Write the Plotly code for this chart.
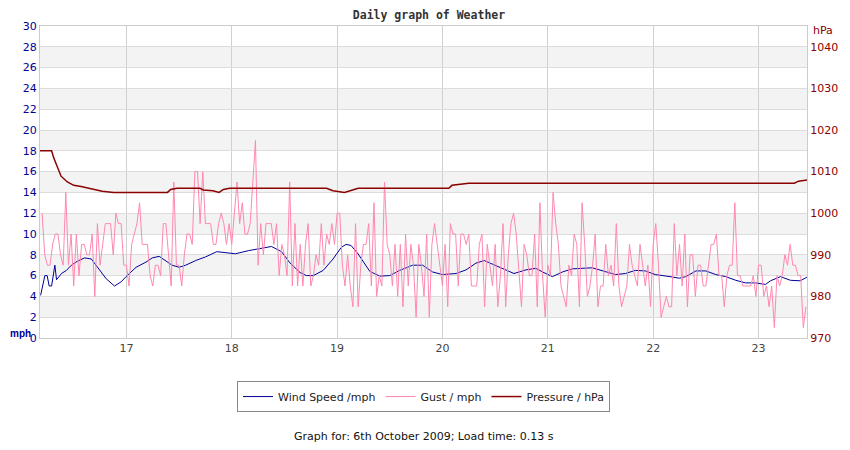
import plotly.graph_objects as go

# Gust / mph, one sample every 1.5 minutes starting 16:12 (0.025 h steps)
GUST_START = 16.20
GUST_STEP = 0.025
gust_16 = [12, 8, 7, 7, 9, 10, 10, 8, 7, 14, 7, 10, 5, 10, 6, 9, 9, 8, 8, 10,
           4, 11, 7, 9, 11, 11, 11, 8, 12, 11, 11, 7, 7]
gust_17 = [5, 9, 10, 11, 13, 9, 9, 9, 6, 5, 7, 7, 6, 11, 11, 8, 5, 15, 7, 7,
           5, 8, 10, 10, 9, 16, 16, 11, 16, 11, 11, 11, 9, 9, 11, 12, 11, 9, 11, 9]
gust_18 = [12, 15, 11, 13, 10, 10, 11, 15, 19, 7, 11, 8, 11, 11, 11, 9, 11, 6, 9, 8,
           6, 15, 5, 11, 5, 9, 5, 9, 11, 5, 6, 8, 7, 11, 7, 10, 9, 11, 9, 12]
gust_19 = [12, 7, 5, 8, 5, 3, 11, 3, 7, 9, 9, 11, 5, 13, 4, 6, 5, 15, 9, 8,
           5, 9, 4, 9, 3, 10, 5, 9, 7, 2, 9, 7, 4, 10, 2, 9, 11, 9, 7, 5]
gust_20 = [9, 3, 11, 10, 10, 5, 10, 10, 9, 10, 5, 5, 5, 9, 10, 3, 9, 7, 5, 9,
           3, 6, 11, 3, 8, 11, 12, 10, 6, 3, 9, 8, 6, 6, 10, 3, 13, 6, 2, 7]
gust_21 = [6, 14, 11, 9, 5, 4, 3, 7, 6, 10, 9, 3, 13, 9, 4, 5, 7, 10, 3, 5,
           5, 9, 6, 7, 5, 11, 5, 3, 4, 5, 9, 7, 6, 5, 9, 7, 5, 7, 3, 9]
gust_22 = [11, 7, 2, 3, 4, 3, 3, 11, 6, 9, 5, 10, 3, 8, 8, 4, 7, 7, 5, 5,
           7, 9, 9, 10, 6, 6, 3, 6, 7, 7, 13, 6, 6, 5, 5, 5, 5, 6, 4, 7]
gust_23 = [7, 4, 5, 3, 5, 1, 6, 5, 6, 8, 7, 9, 7, 7, 6, 6, 1, 3]
gust = gust_16 + gust_17 + gust_18 + gust_19 + gust_20 + gust_21 + gust_22 + gust_23
gust_hours = [GUST_START + i * GUST_STEP for i in range(len(gust))]

# Wind speed / mph (averaged)
wind_hours = [16.186, 16.226, 16.248, 16.267, 16.290, 16.321, 16.337, 16.384, 16.431,
              16.478, 16.538, 16.604, 16.667, 16.745, 16.808, 16.887, 16.950, 16.997,
              17.092, 17.186, 17.245, 17.311, 17.375, 17.434, 17.500, 17.563, 17.658,
              17.752, 17.858, 17.972, 18.035, 18.160, 18.283, 18.377, 18.472, 18.554,
              18.648, 18.708, 18.774, 18.868, 18.962, 19.038, 19.085, 19.132, 19.198,
              19.311, 19.406, 19.500, 19.594, 19.717, 19.811, 19.906, 20.000, 20.129,
              20.224, 20.318, 20.396, 20.472, 20.566, 20.679, 20.792, 20.887, 20.950,
              21.044, 21.139, 21.233, 21.422, 21.516, 21.642, 21.736, 21.830, 21.925,
              22.019, 22.160, 22.248, 22.311, 22.406, 22.500, 22.594, 22.689, 22.783,
              22.877, 22.972, 23.066, 23.113, 23.208, 23.302, 23.396, 23.459]
wind = [4.1, 6.0, 6.0, 5.0, 5.0, 7.0, 5.6, 6.2, 6.5,
        7.0, 7.4, 7.7, 7.6, 6.5, 5.7, 5.0, 5.4, 5.9,
        6.8, 7.3, 7.7, 7.85, 7.45, 7.0, 6.8, 7.0, 7.45,
        7.8, 8.3, 8.2, 8.1, 8.4, 8.65, 8.8, 8.3, 7.2,
        6.3, 6.0, 6.0, 6.5, 7.6, 8.7, 9.0, 8.9, 8.1,
        6.4, 5.95, 6.0, 6.5, 7.0, 7.0, 6.35, 6.1, 6.2,
        6.55, 7.2, 7.45, 7.1, 6.65, 6.2, 6.55, 6.7, 6.35,
        5.9, 6.35, 6.65, 6.75, 6.5, 6.1, 6.2, 6.5, 6.45,
        6.1, 5.9, 5.75, 5.9, 6.45, 6.45, 6.1, 5.9, 5.55,
        5.3, 5.3, 5.15, 5.5, 5.9, 5.55, 5.5, 5.85]

# Pressure / hPa (change points)
pressure_hours = [16.18, 16.29, 16.31, 16.34, 16.38, 16.44, 16.50, 16.57, 16.63, 16.70,
                  16.77, 16.88, 17.39, 17.42, 17.48, 17.70, 17.73, 17.82, 17.88, 17.92,
                  17.98, 18.90, 18.96, 19.07, 19.15, 19.20, 20.06, 20.09, 20.25, 23.34,
                  23.38, 23.46]
pressure = [1015.0, 1015.0, 1013.3, 1011.3, 1008.9, 1007.5, 1006.7, 1006.4, 1006.1, 1005.8,
            1005.3, 1005.0, 1005.0, 1005.7, 1006.0, 1006.0, 1005.6, 1005.4, 1005.0, 1005.7,
            1006.0, 1006.0, 1005.4, 1005.0, 1005.7, 1006.0, 1006.0, 1006.7, 1007.2, 1007.2,
            1007.7, 1008.0]

hour_ticks = [17, 18, 19, 20, 21, 22, 23]
mph_ticks = list(range(0, 31, 2))
hpa_ticks = list(range(970, 1041, 10))

NAVY = "#000099"
PINK = "#ff88b0"
DARKRED = "#8b0000"
GRID = "#dcdcdc"
FONT = "DejaVu Sans"

fig = go.Figure()

fig.add_trace(go.Scatter(x=wind_hours, y=wind, mode="lines", name="Wind Speed /mph",
                         line=dict(color=NAVY, width=1)))
fig.add_trace(go.Scatter(x=gust_hours, y=gust, mode="lines", name="Gust / mph",
                         line=dict(color=PINK, width=1)))
fig.add_trace(go.Scatter(x=pressure_hours, y=pressure, mode="lines", name="Pressure / hPa",
                         line=dict(color=DARKRED, width=1.5), yaxis="y2"))

# alternating shaded bands behind the plot
for lo in range(2, 30, 4):
    fig.add_shape(type="rect", xref="paper", yref="y", x0=0, x1=1, y0=lo, y1=lo + 2,
                  fillcolor="#f3f3f3", line_width=0, layer="below")

# the page body adds an 8px margin, so the figure is sized to fit inside the window
fig.update_layout(
    width=842,
    height=442,
    margin=dict(l=32, r=38, t=16, b=112),
    paper_bgcolor="white",
    plot_bgcolor="white",
    font=dict(family=FONT, size=11, color="#333333"),
    title=dict(text="<b>Daily graph of Weather</b>", x=0.5, xanchor="center",
               y=0.984, yanchor="middle",
               font=dict(family="DejaVu Sans Mono", size=11.5, color="#333333")),
    showlegend=True,
    legend=dict(orientation="h", x=0.5, xanchor="center", y=-0.138, yanchor="top",
                bordercolor="#888888", borderwidth=1, font=dict(size=11, color="#222222"),
                itemwidth=30, tracegroupgap=0),
    xaxis=dict(range=[16.18, 23.46], tickvals=hour_ticks, showgrid=True, gridcolor="#d0d0d0",
               gridwidth=1, zeroline=False, showline=True, linecolor="#cccccc", mirror=True,
               ticks="", tickfont=dict(size=11, color="#444444")),
    yaxis=dict(range=[0, 30], tickvals=mph_ticks, showgrid=True, gridcolor=GRID,
               zeroline=False, showline=True, linecolor="#cccccc", ticks="",
               tickfont=dict(size=11, color=NAVY)),
    yaxis2=dict(range=[970, 1045], tickvals=hpa_ticks, overlaying="y", side="right",
                showgrid=False, zeroline=False, showline=True, linecolor="#cccccc",
                ticks="", tickfont=dict(size=11, color=DARKRED)),
)

fig.add_annotation(text="<b>mph</b>", xref="paper", yref="paper", x=-0.0412, y=0.016,
                   xanchor="left", yanchor="middle", showarrow=False,
                   font=dict(family="Liberation Sans", size=10, color=NAVY))
fig.add_annotation(text="hPa", xref="paper", yref="paper", x=1.021, y=0.984,
                   xanchor="center", yanchor="middle", showarrow=False,
                   font=dict(size=11, color=DARKRED))
fig.add_annotation(text="Graph for: 6th October 2009; Load time: 0.13 s", xref="paper",
                   yref="paper", x=0.5, y=-0.315, xanchor="center", yanchor="middle",
                   showarrow=False, font=dict(size=11, color="#111111"))

fig.write_html("out.html")
